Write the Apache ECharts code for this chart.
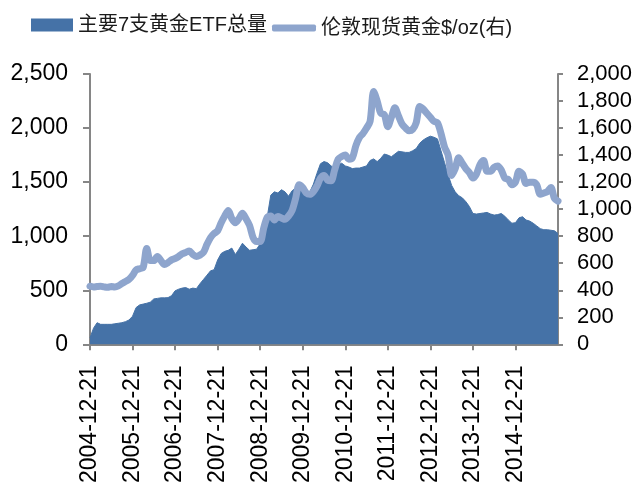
<!DOCTYPE html>
<html>
<head>
<meta charset="utf-8">
<script src="https://cdn.jsdelivr.net/npm/echarts@6/dist/echarts.min.js"></script>
<style>
html,body{margin:0;padding:0;background:#fff;}
#chart{width:639px;height:486px;}
</style>
</head>
<body>
<div id="chart"></div>
<script>
// Monthly categories, 2004-12-21 .. 2015-12-21
var categories = [];
(function(){
  var y = 2004, m = 12;
  for (var k = 0; k < 133; k++) {
    categories.push(y + '-' + (m < 10 ? '0' + m : m) + '-21');
    m++; if (m > 12) { m = 1; y++; }
  }
})();

var seriesNames = ['主要7支黄金ETF总量', '伦敦现货黄金$/oz(右)'];

// ETF holdings (left axis)
var etfValues = [
  60,150,200,185,185,185,185,190,195,200,210,225,
  260,340,365,372,380,390,420,425,430,430,432,450,
  495,510,520,525,510,520,515,560,600,640,680,690,
  780,840,860,870,890,830,880,935,900,870,875,880,
  930,1000,1180,1380,1410,1400,1430,1410,1370,1420,1445,1430,
  1420,1400,1410,1480,1580,1670,1690,1680,1650,1630,1660,1675,
  1650,1640,1625,1630,1630,1640,1650,1700,1715,1690,1720,1760,
  1750,1735,1760,1785,1780,1775,1775,1790,1810,1860,1890,1910,
  1925,1915,1900,1790,1680,1570,1470,1410,1375,1355,1320,1275,
  1210,1205,1210,1215,1220,1205,1195,1200,1210,1185,1150,1120,
  1125,1170,1180,1150,1140,1120,1095,1070,1060,1060,1055,1050,
  1025
];

// London spot gold (right axis)
var goldValues = [
  430,425,428,430,425,422,428,425,432,450,465,480,
  510,550,560,570,710,620,620,650,620,590,605,625,
  635,650,670,680,690,665,650,660,680,740,790,820,
  840,900,950,990,930,900,930,970,930,880,790,760,
  760,860,940,950,920,945,935,925,950,990,1080,1180,
  1160,1120,1110,1130,1170,1230,1250,1215,1210,1290,1370,1390,
  1400,1370,1380,1470,1530,1560,1600,1650,1870,1800,1710,1700,
  1610,1680,1750,1690,1630,1600,1580,1590,1640,1760,1740,1710,
  1680,1650,1640,1560,1460,1400,1250,1300,1380,1340,1300,1270,
  1230,1260,1330,1360,1280,1280,1310,1320,1290,1230,1220,1180,
  1200,1280,1260,1190,1200,1200,1180,1110,1120,1130,1160,1080,
  1060
];

var leftTicks = { min: 0, max: 2500, interval: 500 };
var rightTicks = { min: 0, max: 2000, interval: 200 };

var FONT = '"Liberation Sans", Arial, "Noto Sans CJK SC", sans-serif';
var AXIS_COLOR = '#868686';
function fmt(v){ return String(v).replace(/\B(?=(\d{3})+(?!\d))/g, ','); }
function yearTick(idx){ return idx % 12 === 0 && idx < 132; }

var chart = echarts.init(document.getElementById('chart'), null, {renderer:'canvas'});
chart.setOption({
  animation: false,
  backgroundColor: '#ffffff',
  legend: [
    { data: [{name: seriesNames[0], icon: 'rect'}], left: 26, top: 10,
      itemWidth: 42, itemHeight: 13, itemGap: 5,
      textStyle: { fontSize: 20, color: '#1a1a1a', fontFamily: FONT } },
    { data: [{name: seriesNames[1], icon: 'roundRect'}], left: 267, top: 13,
      itemWidth: 44, itemHeight: 7, itemGap: 5,
      textStyle: { fontSize: 20, color: '#1a1a1a', fontFamily: FONT } }
  ],
  grid: { left: 90, right: 81, top: 74, bottom: 141, containLabel: false },
  xAxis: {
    type: 'category', data: categories, boundaryGap: false,
    axisLine: { lineStyle: { color: AXIS_COLOR, width: 2 } },
    axisTick: { interval: yearTick, length: 6, lineStyle: { color: AXIS_COLOR, width: 2 } },
    axisLabel: { interval: yearTick, rotate: 90, fontSize: 23, color: '#000', fontFamily: FONT, margin: 21 },
    splitLine: { show: false }
  },
  yAxis: [
    { type: 'value', min: leftTicks.min, max: leftTicks.max, interval: leftTicks.interval,
      axisLine: { show: true, lineStyle: { color: AXIS_COLOR, width: 2 } },
      axisTick: { show: true, length: 7, lineStyle: { color: AXIS_COLOR, width: 2 } },
      axisLabel: { fontSize: 23, color: '#000', fontFamily: FONT, margin: 22, formatter: fmt },
      splitLine: { show: false } },
    { type: 'value', min: rightTicks.min, max: rightTicks.max, interval: rightTicks.interval,
      position: 'right',
      axisLine: { show: true, lineStyle: { color: AXIS_COLOR, width: 2 } },
      axisTick: { show: true, length: 5, lineStyle: { color: AXIS_COLOR, width: 2 } },
      axisLabel: { fontSize: 22, color: '#000', fontFamily: FONT, margin: 19, formatter: fmt },
      splitLine: { show: false } }
  ],
  series: [
    { name: seriesNames[0], type: 'line', yAxisIndex: 0, data: etfValues,
      showSymbol: false, symbol: 'none', smooth: false, sampling: 'none',
      color: '#4572A7',
      lineStyle: { width: 1, color: '#4572A7' },
      areaStyle: { color: '#4572A7', opacity: 1 } },
    { name: seriesNames[1], type: 'line', yAxisIndex: 1, data: goldValues,
      showSymbol: false, symbol: 'none', smooth: 0.3,
      color: '#8EA5CD',
      lineStyle: { width: 7, color: '#8EA5CD', cap: 'round', join: 'round' } }
  ]
});
</script>
</body>
</html>
